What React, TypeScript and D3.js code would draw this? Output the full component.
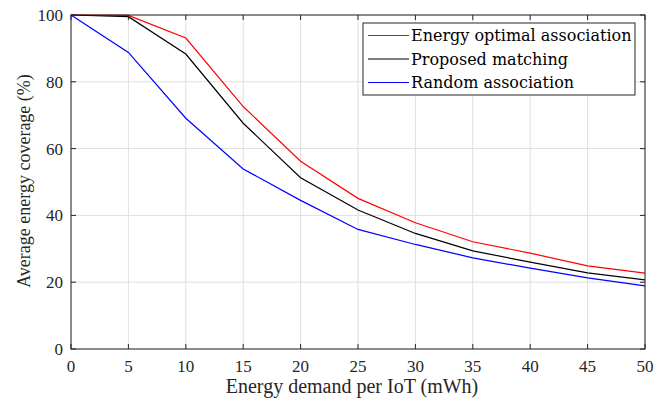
import React from 'react';
import * as d3 from 'd3';

const demand = [0, 5, 10, 15, 20, 25, 30, 35, 40, 45, 50];
const optimal = [100, 99.9, 93.1, 72.6, 56.2, 45.1, 37.8, 32.1, 28.7, 24.9, 22.7];
const proposed = [100, 99.5, 88.3, 67.6, 51.3, 41.6, 34.6, 29.4, 26.0, 22.8, 20.7];
const random = [100, 88.8, 69.1, 53.9, 44.5, 35.8, 31.3, 27.3, 24.2, 21.3, 18.9];
const xTicks = [0, 5, 10, 15, 20, 25, 30, 35, 40, 45, 50];
const yTicks = [0, 20, 40, 60, 80, 100];

const series = [
  { name: 'Energy optimal association', values: optimal, color: '#ff0000' },
  { name: 'Proposed matching', values: proposed, color: '#000000' },
  { name: 'Random association', values: random, color: '#0000ff' },
];

const W = 666, H = 398;
const left = 71, right = 645, top = 15, bottom = 349;

export default function App() {
  const x = d3.scaleLinear().domain([0, 50]).range([left, right]);
  const y = d3.scaleLinear().domain([0, 100]).range([bottom, top]);
  const line = d3.line<number>().x((d, i) => x(demand[i])).y(d => y(d));
  const axisColor = '#262626';
  const serif = 'Liberation Serif';
  const tickStyle = { fontFamily: serif, fontSize: 17, fill: '#262626' };

  return (
    <svg width={W} height={H} style={{ position: 'absolute', left: 0, top: 0, background: '#fff' }}>
      <rect width={W} height={H} fill="#fff" />
      {/* grid */}
      {xTicks.map(t => (
        <line key={'gx' + t} x1={x(t)} x2={x(t)} y1={top} y2={bottom} stroke="#dfdfdf" strokeWidth={1} />
      ))}
      {yTicks.map(t => (
        <line key={'gy' + t} x1={left} x2={right} y1={y(t)} y2={y(t)} stroke="#dfdfdf" strokeWidth={1} />
      ))}
      {/* lines */}
      {series.map(s => (
        <path key={s.name} d={line(s.values) || ''} fill="none" stroke={s.color} strokeWidth={1.2} />
      ))}
      {/* box and ticks */}
      <rect x={left} y={top} width={right - left} height={bottom - top} fill="none" stroke={axisColor} strokeWidth={1} />
      {xTicks.map(t => (
        <g key={'tx' + t}>
          <line x1={x(t)} x2={x(t)} y1={bottom} y2={bottom - 5} stroke={axisColor} />
          <line x1={x(t)} x2={x(t)} y1={top} y2={top + 5} stroke={axisColor} />
          <text x={x(t)} y={372} textAnchor="middle" style={tickStyle}>{t}</text>
        </g>
      ))}
      {yTicks.map(t => (
        <g key={'ty' + t}>
          <line x1={left} x2={left + 5} y1={y(t)} y2={y(t)} stroke={axisColor} />
          <line x1={right} x2={right - 5} y1={y(t)} y2={y(t)} stroke={axisColor} />
          <text x={63} y={y(t) + 6} textAnchor="end" style={tickStyle}>{t}</text>
        </g>
      ))}
      <text x={(left + right) / 2 - 6} y={393} textAnchor="middle" style={{ ...tickStyle, fontSize: 20 }}>
        Energy demand per IoT (mWh)
      </text>
      <text transform={`translate(30,${181}) rotate(-90)`} textAnchor="middle" style={{ ...tickStyle, fontSize: 18 }}>
        Average energy coverage (%)
      </text>
      {/* legend */}
      <rect x={363} y={23} width={272} height={72} fill="#fff" stroke={axisColor} strokeWidth={1} />
      {series.map((s, i) => (
        <g key={'lg' + s.name}>
          <line x1={368} x2={409} y1={35.5 + i * 23.5} y2={35.5 + i * 23.5} stroke={s.color} strokeWidth={1.2} />
          <text x={411} y={41 + i * 23.5} style={{ fontFamily: 'DejaVu Serif', fontSize: 16, fill: '#000' }}>{s.name}</text>
        </g>
      ))}
    </svg>
  );
}
